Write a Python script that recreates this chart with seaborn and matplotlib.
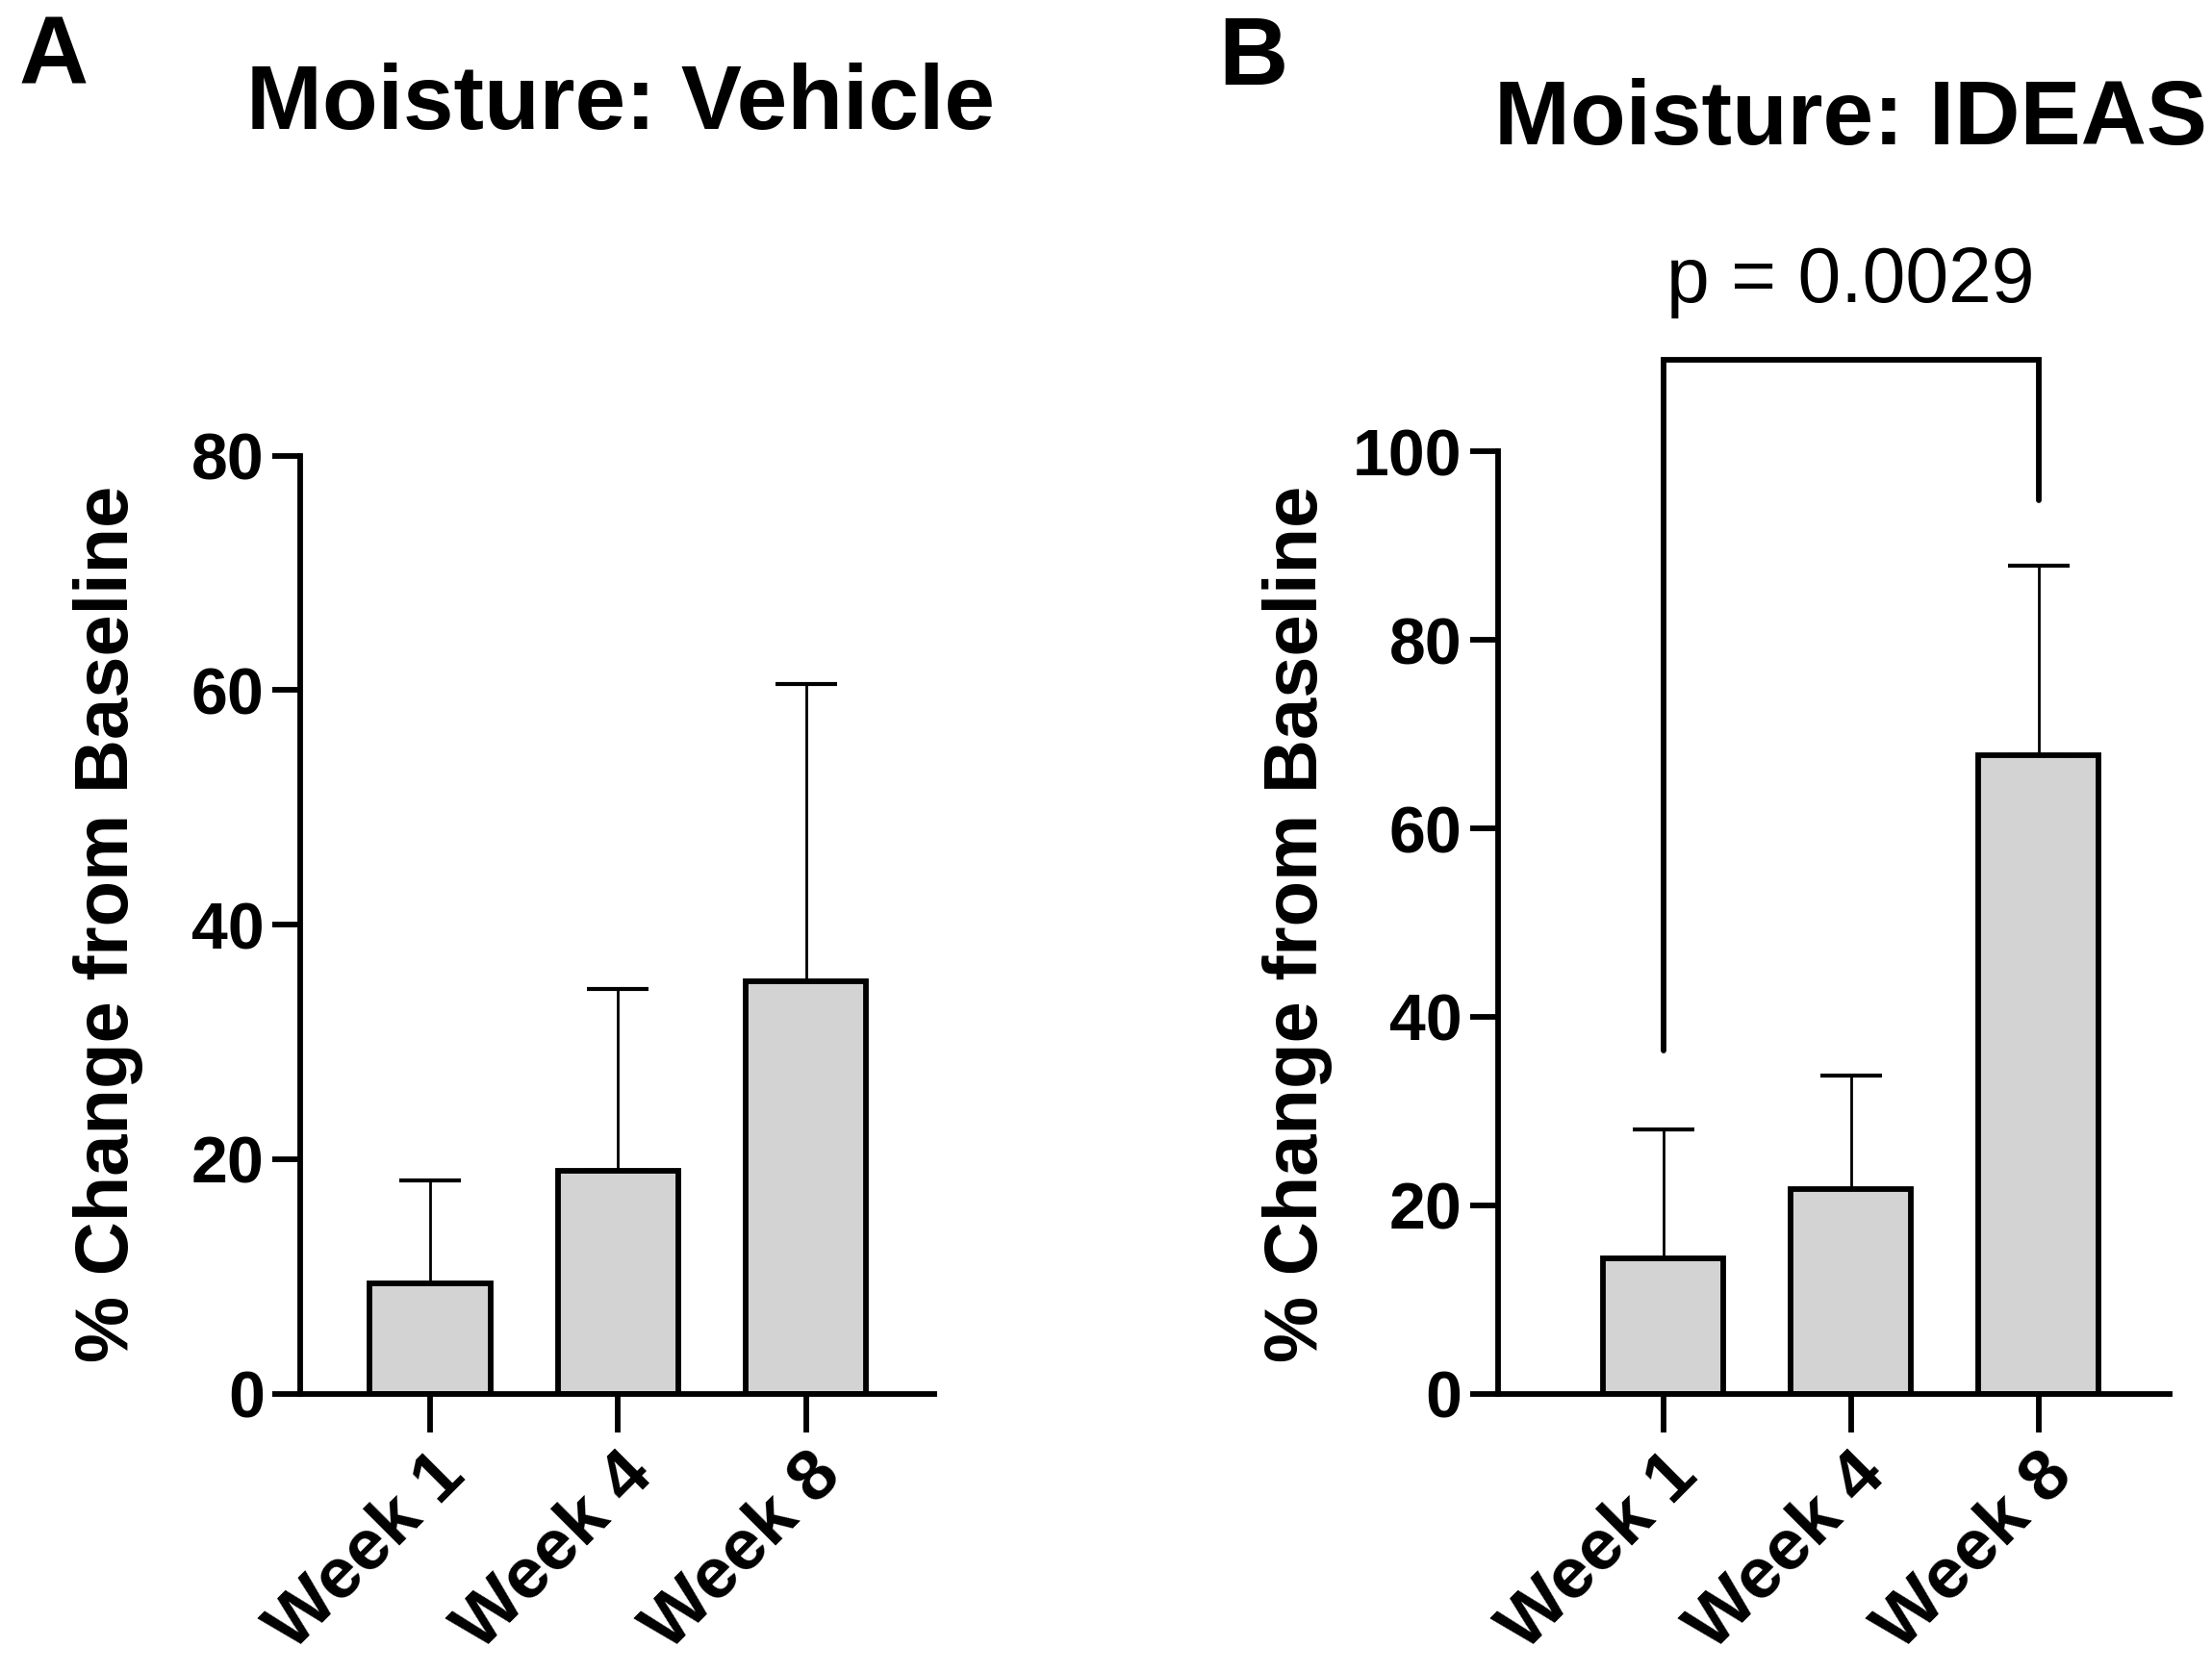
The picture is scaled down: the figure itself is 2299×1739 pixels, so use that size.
import matplotlib
matplotlib.use("Agg")
import matplotlib.pyplot as plt
import seaborn as sns
import pandas as pd

weeks = ["Week 1", "Week 4", "Week 8"]
vehicle_mean = [9.4, 19.0, 35.2]
vehicle_sd = [8.8, 15.5, 25.3]
ideas_mean = [14.4, 21.7, 67.8]
ideas_sd = [13.6, 12.1, 20.1]
vehicle_yticks = [0, 20, 40, 60, 80]
ideas_yticks = [0, 20, 40, 60, 80, 100]
p_label = "p = 0.0029"
bracket_top = 109.7
bracket_left_bottom = 36.4
bracket_right_bottom = 94.8
p_text_y = 118.0

sns.set_theme(style="ticks")
plt.rcParams['font.family'] = ['Liberation Sans', 'DejaVu Sans']
plt.rcParams.update({
    "text.color": "black", "axes.labelcolor": "black", "axes.edgecolor": "black",
    "xtick.color": "black", "ytick.color": "black",
})

fig = plt.figure(figsize=(22.99, 17.39), dpi=100)

LW = 4.2
fill = "#d3d3d3"

def panel(rect, means, sds, yticks, ylim, xlim, title, title_xy, letter, letter_xy, ylabel_xy):
    ax = fig.add_axes(rect)
    df = pd.DataFrame({"week": weeks, "value": means})
    sns.barplot(data=df, x="week", y="value", color=fill, edgecolor="black",
                linewidth=LW, width=0.64, errorbar=None, ax=ax, saturation=1)
    ax.errorbar(range(len(weeks)), means, yerr=[[0]*len(sds), sds], fmt="none",
                ecolor="black", elinewidth=2.0, capsize=23, capthick=3.0, zorder=1)
    ax.set_ylim(*ylim)
    ax.set_xlim(*xlim)
    ax.set_yticks(yticks)
    ax.set_xlabel("")
    ax.set_ylabel("")
    sns.despine(ax=ax)
    for s in ["left", "bottom"]:
        ax.spines[s].set_linewidth(LW)
        ax.spines[s].set_color("black")
    ax.tick_params(axis="y", length=21, width=LW, labelsize=49, pad=6, colors="black")
    ax.tick_params(axis="x", length=29, width=LW, labelsize=54, pad=6, colors="black")
    for lab in ax.get_yticklabels():
        lab.set_fontweight("bold")
    ax.set_xticks(range(len(weeks)))
    ax.set_xticklabels(weeks, rotation=45, ha="right", rotation_mode="anchor",
                       fontweight="bold")
    fig.text(title_xy[0], title_xy[1], title, ha="center", va="center",
             fontsize=68, fontweight="bold", color="black")
    fig.text(letter_xy[0], letter_xy[1], letter, ha="left", va="center",
             fontsize=72, fontweight="bold", color="black")
    fig.text(ylabel_xy[0], ylabel_xy[1], "% Change from Baseline", ha="center",
             va="center", rotation=90, fontsize=56, fontweight="bold", color="black")
    return ax

axA = panel([0.1358, 0.1669, 0.2864, 0.5608], vehicle_mean, vehicle_sd,
            vehicle_yticks, (0, 80), (-0.69, 2.68), "Moisture: Vehicle",
            (0.2806, 0.937), "A", (0.0085, 0.9646), (0.0490, 0.4477))
axB = panel([0.6773, 0.1669, 0.3036, 0.5633], ideas_mean, ideas_sd,
            ideas_yticks, (0, 100), (-0.88, 2.70), "Moisture: IDEAS",
            (0.8365, 0.928), "B", (0.5510, 0.9646), (0.5865, 0.4477))

axB.plot([0, 0, 2, 2], [bracket_left_bottom, bracket_top, bracket_top, bracket_right_bottom],
         color="black", lw=LW, clip_on=False, solid_joinstyle="miter")
axB.text(1, p_text_y, p_label, ha="center", va="center", fontsize=58, clip_on=False,
         color="black")

fig.savefig("out.png", dpi=100)
